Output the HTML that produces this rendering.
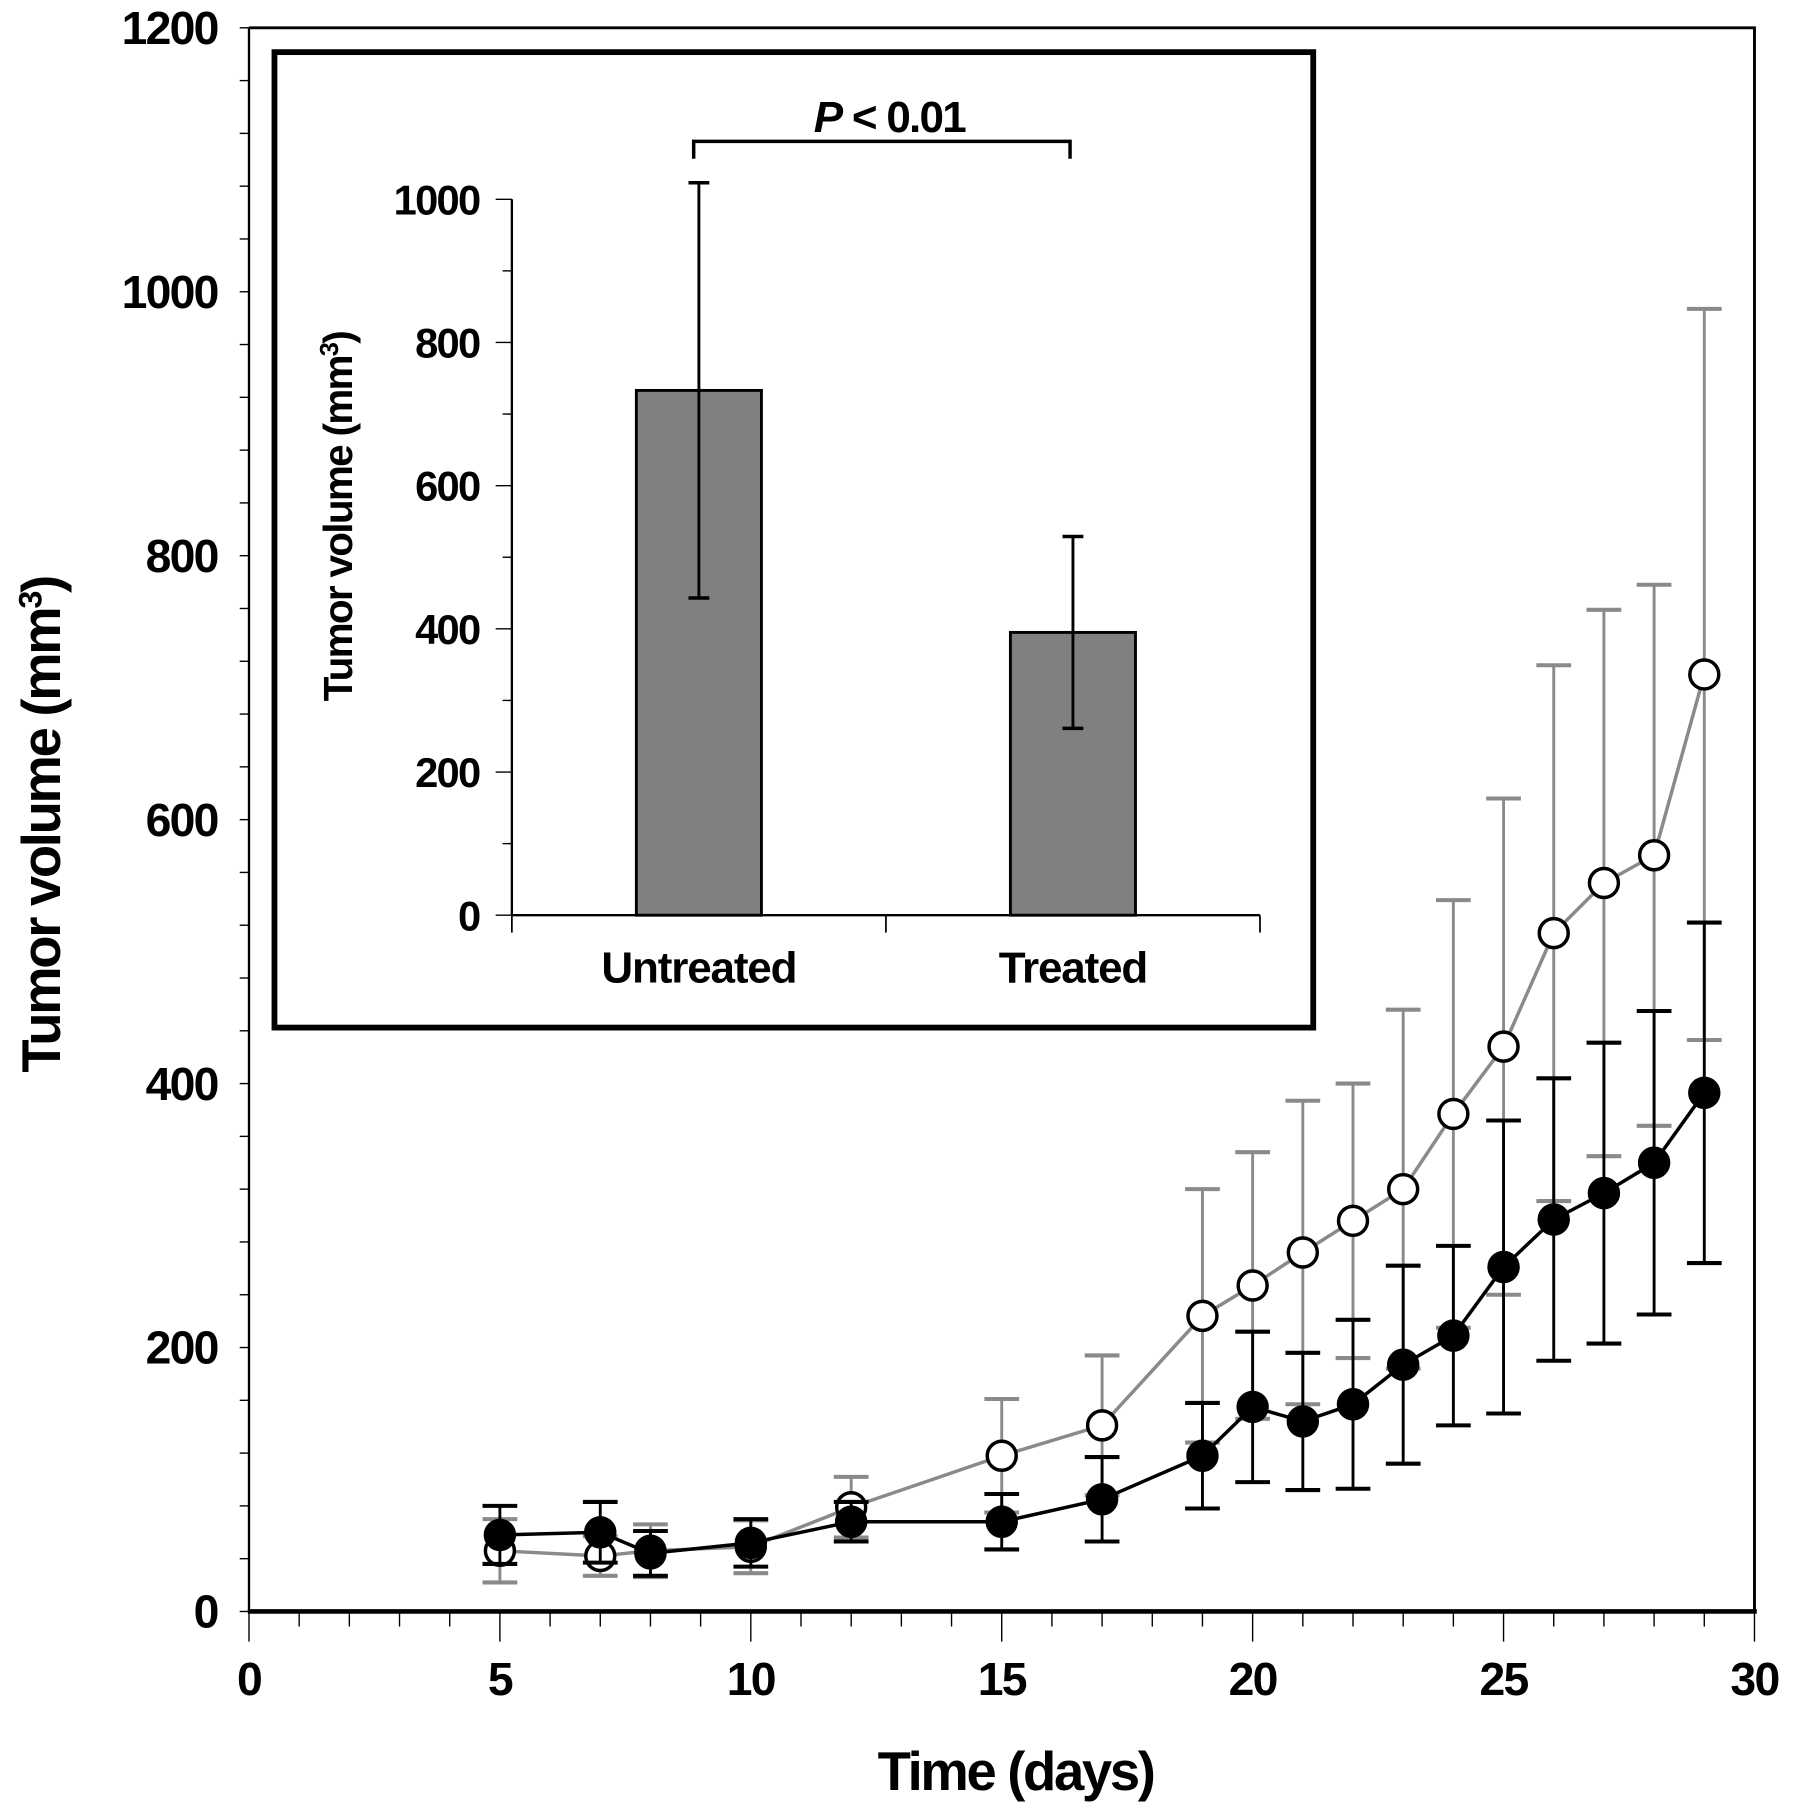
<!DOCTYPE html>
<html><head><meta charset="utf-8"><style>
html,body{margin:0;padding:0;background:#fff;}
svg{display:block;}
text{font-family:"Liberation Sans",sans-serif;font-weight:bold;fill:#000;}
</style></head><body>
<svg id="chart" width="1795" height="1820" viewBox="0 0 1550 1571" preserveAspectRatio="none" xmlns="http://www.w3.org/2000/svg">
<g id="main"></g>
<g id="inset"></g>
</svg>
<script>
const days = [5,7,8,10,12,15,17,19,20,21,22,23,24,25,26,27,28,29];
const untreatedMean = [46,42,46,49,79,118,141,224,247,272,296,320,377,428,514,552,573,710];
const untreatedErr = [24,15,20,20,23,43,53,96,101,115,104,136,162,188,203,207,205,277];
const treatedMean = [58,60,44,52,68,68,85,118,155,144,157,187,209,261,297,317,340,393];
const treatedErr = [22,23,17,18,15,21,32,40,57,52,64,75,68,111,107,114,115,129];
const yTicks = [0,200,400,600,800,1000,1200];
const xTicks = [0,5,10,15,20,25,30];
const barCats = ["Untreated","Treated"];
const barVals = [733,395];
const barErrs = [290,134];
const insetTicks = [0,200,400,600,800,1000];

const NS="http://www.w3.org/2000/svg";
function mk(parent,tag,attrs){const e=document.createElementNS(NS,tag);for(const k in attrs)e.setAttribute(k,attrs[k]);parent.appendChild(e);return e;}
const main=document.getElementById('main');


const X0=215,X1=1515,Y0=1391,Y1=24;
const sx=d=>X0+(X1-X0)*d/30;
const sy=v=>Y0-(Y0-Y1)*v/1200;

let f=mk(main,'path',{d:`M${X0},${Y1} L${X1},${Y1} L${X1},${Y0}`,fill:'none',stroke:'#000','stroke-width':2.5});


let ya=mk(main,'line',{x1:X0,y1:Y1,x2:X0,y2:Y0,stroke:'#000','stroke-width':2});


let xa=mk(main,'line',{x1:X0-1,y1:Y0,x2:X1+2,y2:Y0,stroke:'#000','stroke-width':4});


for(let v=0;v<=1200;v+=40){mk(main,'line',{x1:X0-8,y1:sy(v),x2:X0,y2:sy(v),stroke:'#000','stroke-width':1.2});}
for(let d=0;d<=30;d++){mk(main,'line',{x1:sx(d),y1:Y0,x2:sx(d),y2:Y0+(d%5===0?26:13),stroke:'#000','stroke-width':1.2});}
yTicks.forEach(v=>{const t=mk(main,'text',{x:188,y:sy(v)+14,'text-anchor':'end','font-size':40,'letter-spacing':-1.5});t.textContent=v;

});
xTicks.forEach(d=>{const t=mk(main,'text',{x:sx(d),y:1463,'text-anchor':'middle','font-size':40,'letter-spacing':-1.5});t.textContent=d;

});
let xt=mk(main,'text',{x:877,y:1545,'text-anchor':'middle','font-size':47,'letter-spacing':-2});xt.textContent='Time (days)';


let yt=mk(main,'text',{x:0,y:0,'text-anchor':'middle','font-size':47,'letter-spacing':-2,transform:'translate(52,712) rotate(-90)'});
yt.innerHTML='Tumor volume (mm<tspan dy="-16" font-size="28">3</tspan><tspan dy="16">)</tspan>';



function series(means,errs,color,filled,name){
  const g=mk(main,'g',{});
  
  
  days.forEach((d,i)=>{
    const x=sx(d),yu=sy(means[i]+errs[i]),yl=sy(means[i]-errs[i]);
    mk(g,'line',{x1:x,y1:yu,x2:x,y2:yl,stroke:color,'stroke-width':2.5});
    mk(g,'line',{x1:x-15,y1:yu,x2:x+15,y2:yu,stroke:color,'stroke-width':3.5});
    mk(g,'line',{x1:x-15,y1:yl,x2:x+15,y2:yl,stroke:color,'stroke-width':3.5});
  });
  mk(g,'polyline',{points:days.map((d,i)=>sx(d)+','+sy(means[i])).join(' '),fill:'none',stroke:color,'stroke-width':3});
  days.forEach((d,i)=>{const c=mk(g,'circle',{cx:sx(d),cy:sy(means[i]),r:12.5,fill:filled?'#000':'#fff',stroke:'#000','stroke-width':3});
  
  });
}
series(untreatedMean,untreatedErr,'#8a8a8a',false,'untreated-series');
series(treatedMean,treatedErr,'#000',true,'treated-series');

const ins=document.getElementById('inset');


let box=mk(ins,'rect',{x:237,y:45,width:897,height:842,fill:'#fff',stroke:'#000','stroke-width':5});


const IX0=442,IX1=1088,IY0=790,IY1=172;
const iy=v=>IY0-(IY0-IY1)*v/1000;
mk(ins,'line',{x1:IX0,y1:IY1,x2:IX0,y2:IY0,stroke:'#000','stroke-width':2});
mk(ins,'line',{x1:IX0,y1:IY0,x2:IX1,y2:IY0,stroke:'#000','stroke-width':2});
[IX0,765,IX1].forEach(x=>mk(ins,'line',{x1:x,y1:IY0,x2:x,y2:IY0+15,stroke:'#000','stroke-width':1.5}));
for(let v=0;v<=1000;v+=100)mk(ins,'line',{x1:IX0-(v%200===0?14:8),y1:iy(v),x2:IX0,y2:iy(v),stroke:'#000','stroke-width':1.2});
insetTicks.forEach(v=>{const t=mk(ins,'text',{x:414,y:iy(v)+13,'text-anchor':'end','font-size':36,'letter-spacing':-1.5});t.textContent=v;

});
const centers=[603.5,926.5];
barCats.forEach((c,i)=>{
  const cx=centers[i];
  const b=mk(ins,'rect',{x:cx-54,y:iy(barVals[i]),width:108,height:IY0-iy(barVals[i]),fill:'#808080',stroke:'#000','stroke-width':2.5});
  
  
  const yu=iy(barVals[i]+barErrs[i]),yl=iy(barVals[i]-barErrs[i]);
  mk(ins,'line',{x1:cx,y1:yu,x2:cx,y2:yl,stroke:'#000','stroke-width':2.5});
  mk(ins,'line',{x1:cx-9,y1:yu,x2:cx+9,y2:yu,stroke:'#000','stroke-width':3});
  mk(ins,'line',{x1:cx-9,y1:yl,x2:cx+9,y2:yl,stroke:'#000','stroke-width':3});
  const t=mk(ins,'text',{x:cx,y:848,'text-anchor':'middle','font-size':38,'letter-spacing':-1});t.textContent=c;
  
  
});
let br=mk(ins,'path',{d:'M599,137 L599,122 L924,122 L924,137',fill:'none',stroke:'#000','stroke-width':3});


let pt=mk(ins,'text',{x:768,y:114,'text-anchor':'middle','font-size':38,'letter-spacing':-1.5});
pt.innerHTML='<tspan font-style="italic">P</tspan> &lt; 0.01';


let it=mk(ins,'text',{x:0,y:0,'text-anchor':'middle','font-size':35,'letter-spacing':-1.5,transform:'translate(304,446) rotate(-90)'});
it.innerHTML='Tumor volume (mm<tspan dy="-12" font-size="22">3</tspan><tspan dy="12">)</tspan>';


</script>
</body></html>
